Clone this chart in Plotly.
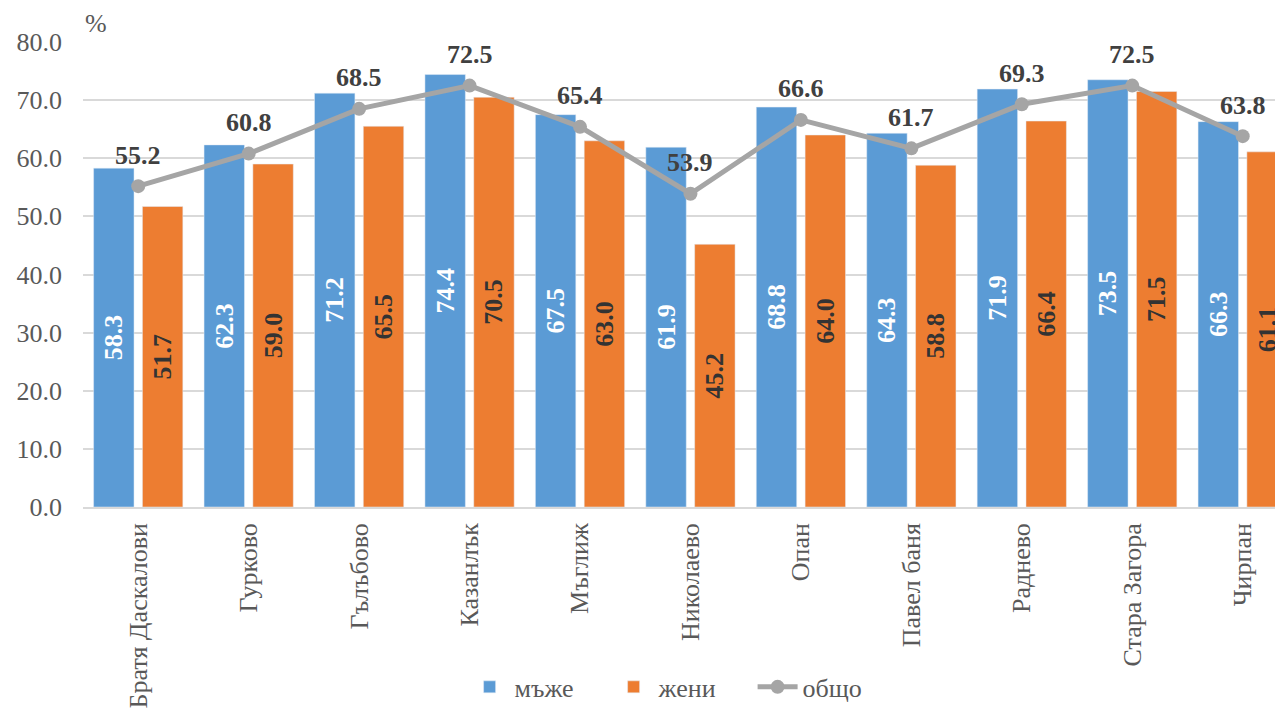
import plotly.graph_objects as go

categories = ["Братя Даскалови", "Гурково", "Гълъбово", "Казанлък", "Мъглиж",
              "Николаево", "Опан", "Павел баня", "Раднево", "Стара Загора", "Чирпан"]
men = [58.3, 62.3, 71.2, 74.4, 67.5, 61.9, 68.8, 64.3, 71.9, 73.5, 66.3]
women = [51.7, 59.0, 65.5, 70.5, 63.0, 45.2, 64.0, 58.8, 66.4, 71.5, 61.1]
total = [55.2, 60.8, 68.5, 72.5, 65.4, 53.9, 66.6, 61.7, 69.3, 72.5, 63.8]
y_ticks = [0, 10, 20, 30, 40, 50, 60, 70, 80]

FONT = "Liberation Serif"
idx = list(range(len(categories)))

fig = go.Figure()
fig.add_trace(go.Bar(
    x=idx, y=men, name="мъже", marker_color="#5B9BD5",
    width=0.366, offset=-0.404,
    text=[f"{v:.1f}" for v in men], textposition="inside", insidetextanchor="middle",
    textangle=-90, textfont=dict(family=FONT, size=26, color="white", weight="bold"),
    cliponaxis=False,
))
fig.add_trace(go.Bar(
    x=idx, y=women, name="жени", marker_color="#ED7D31",
    width=0.366, offset=0.038,
    text=[f"{v:.1f}" for v in women], textposition="inside", insidetextanchor="middle",
    textangle=-90, textfont=dict(family=FONT, size=26, color="#333333", weight="bold"),
    cliponaxis=False,
))
fig.add_trace(go.Scatter(
    x=idx, y=total, name="общо", mode="lines+markers",
    line=dict(color="#A5A5A5", width=5),
    marker=dict(color="#A5A5A5", size=14),
    cliponaxis=False,
))

annotations = [dict(x=i, y=v, text=f"{v:.1f}", xref="x", yref="y", showarrow=False,
                    yshift=31, yanchor="middle",
                    font=dict(family=FONT, size=26, color="#404040", weight="bold"))
               for i, v in zip(idx, total)]
annotations.append(dict(text="%", xref="paper", yref="paper", x=0, y=1, xshift=0, yshift=2,
                        xanchor="left", yanchor="bottom", showarrow=False,
                        font=dict(family=FONT, size=26, color="#595959")))

fig.update_layout(
    width=1283, height=711,
    margin=dict(l=72, r=8, t=34, b=212),
    paper_bgcolor="white", plot_bgcolor="white",
    font=dict(family=FONT, size=26, color="#595959"),
    uniformtext=dict(minsize=8, mode="show"),
    barmode="overlay",
    showlegend=True,
    legend=dict(orientation="h", x=0.318, xanchor="left", y=-0.387, yanchor="middle",
                font=dict(family=FONT, size=26, color="#595959"),
                itemwidth=40, entrywidth=89, entrywidthmode="pixels"),
    xaxis=dict(
        tickmode="array", tickvals=idx, ticktext=categories, tickangle=-90,
        range=[-0.5, 10.365], showgrid=False, zeroline=False,
        showline=True, linecolor="#D9D9D9", linewidth=1.5, ticks="",
        ticklabelstandoff=4,
        tickfont=dict(family=FONT, size=26, color="#595959"),
    ),
    yaxis=dict(
        range=[0, 80], tickvals=y_ticks, tickformat=".1f",
        showgrid=True, gridcolor="#D9D9D9", gridwidth=1.5, zeroline=False,
        showline=False, ticks="", ticklabelstandoff=20,
        tickfont=dict(family=FONT, size=26, color="#595959"),
    ),
    annotations=annotations,
)

fig.write_html("out.html")
